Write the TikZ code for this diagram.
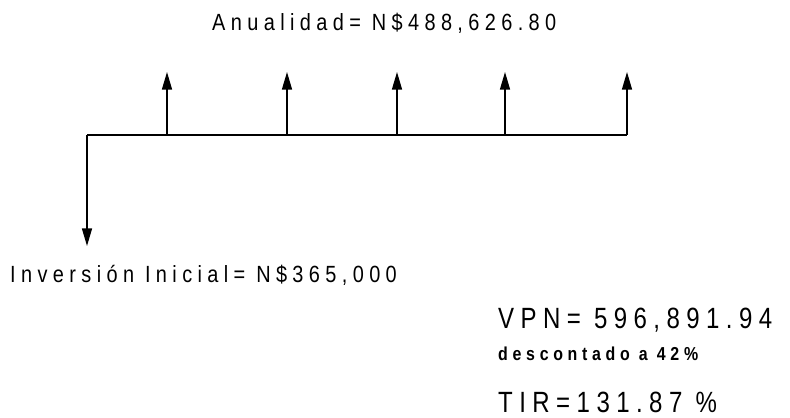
\documentclass[tikz,border=0pt]{standalone}
\usepackage{fontspec}
\setmainfont{Liberation Sans}
\newfontfamily\rotulofont[LetterSpace=23,FakeStretch=0.85]{Liberation Sans}
\newfontfamily\resultadofont[LetterSpace=22,FakeStretch=0.82]{Liberation Sans}
\newfontfamily\notafont[LetterSpace=25,FakeStretch=0.85]{Liberation Sans}
\usetikzlibrary{arrows.meta}

\begin{document}
\begin{tikzpicture}[x=0.03cm,y=-0.03cm]
  \useasboundingbox (0,0) rectangle (790,417);
  \tikzset{flow/.style={line width=1.3pt,-{Triangle[length=15pt,width=8.5pt]}},
           axis/.style={line width=1.3pt},
           rotulo/.style={inner sep=0pt,anchor=base west,font=\rotulofont\fontsize{20}{24}\selectfont},
           resultado/.style={rotulo,font=\resultadofont\fontsize{25}{29}\selectfont}}
  \coordinate (t0) at (87,135);
  \coordinate (t1) at (167,135);
  \coordinate (t2) at (287,135);
  \coordinate (t3) at (397,135);
  \coordinate (t4) at (505,135);
  \coordinate (t5) at (627,135);
  \coordinate (inv) at (87,246);
  \draw[axis] (t0) -- (t5);
  \foreach \i in {1,...,5}
     \draw[flow] (t\i) -- ++(0,-63);
  \draw[flow] (t0) -- (inv);
  \node[rotulo] (anual) at (212,30) {Anualidad= N\$488,626.80};
  \node[rotulo] (inicial) at (10,282) {Inversión Inicial= N\$365,000};
  \node[resultado] (vpn) at (498,328) {VPN= 596,891.94};
  \node[rotulo,font=\notafont\bfseries\fontsize{16}{19}\selectfont] (desc) at (498,360) {descontado a 42\%};
  \node[resultado] (tir) at (498,412) {TIR=131.87 \%};
\end{tikzpicture}
\end{document}
